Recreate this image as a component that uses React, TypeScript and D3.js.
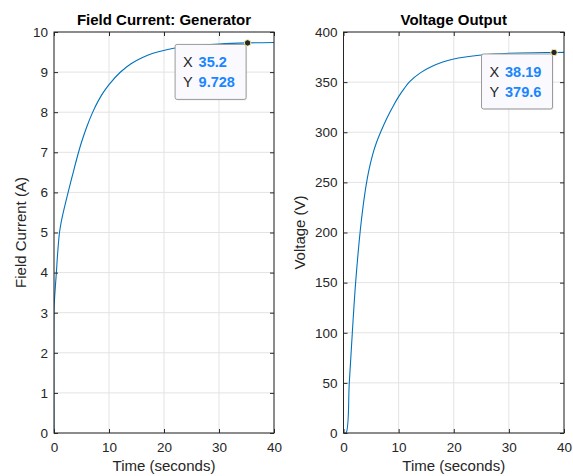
import React, { useEffect, useRef } from 'react';
import * as d3 from 'd3';

// field current (generator)
const fieldTime = [0, 0, 0.1, 0.43, 0.7, 1.0, 1.3, 1.6, 2.6, 3.4, 4.3, 5, 6, 7, 8, 9, 10, 12, 14, 16, 18, 20.9, 25, 30, 35.2, 40];
const fieldCurrent = [0, 3.05, 3.35, 4.0, 4.55, 5.0, 5.25, 5.45, 6.02, 6.45, 6.92, 7.25, 7.65, 7.99, 8.27, 8.5, 8.69, 8.99, 9.21, 9.36, 9.47, 9.57, 9.65, 9.70, 9.728, 9.74];

// voltage output
const voltTime = [0, 0.45, 1.05, 1.6, 2.2, 3.06, 3.6, 4.1, 4.6, 5.3, 6, 6.8, 8, 9, 10, 11, 12, 14, 16, 18, 19.8, 25, 30, 38.19, 40];
const voltage = [0, 0, 50, 100, 150, 203, 228, 247, 262, 278, 290, 301, 315.5, 326, 335.5, 343.5, 350.5, 359.5, 365.5, 370, 372.8, 377, 378.8, 379.6, 379.7];

const timeTicks = [0, 10, 20, 30, 40];
const currentTicks = [0, 1, 2, 3, 4, 5, 6, 7, 8, 9, 10];
const voltageTicks = [0, 50, 100, 150, 200, 250, 300, 350, 400];

const fieldTip = { x: 35.2, y: 9.728, xs: '35.2', ys: '9.728' };
const voltTip = { x: 38.19, y: 379.6, xs: '38.19', ys: '379.6' };

const W = 573;
const H = 476;
const FONT = 'Liberation Sans, Arial, Helvetica, sans-serif';
const INK = '#262626';

function drawPanel(root, opts) {
  const { left, right, top, bottom, xs, ys, yMax, yTicks, title, ylabel, ylabelX, tip } = opts;

  const x = d3.scaleLinear().domain([0, 40]).range([left, right]);
  const y = d3.scaleLinear().domain([0, yMax]).range([bottom, top]);

  const g = root.append('g');

  // grid
  g.append('g').selectAll('line').data(timeTicks).enter().append('line')
    .attr('x1', d => x(d)).attr('x2', d => x(d))
    .attr('y1', top).attr('y2', bottom)
    .attr('stroke', '#e3e3e3').attr('stroke-width', 1);
  g.append('g').selectAll('line').data(yTicks).enter().append('line')
    .attr('x1', left).attr('x2', right)
    .attr('y1', d => y(d)).attr('y2', d => y(d))
    .attr('stroke', '#e3e3e3').attr('stroke-width', 1);

  // clip + line
  const clipId = 'clip-' + title.replace(/[^a-z]/gi, '');
  g.append('clipPath').attr('id', clipId).append('rect')
    .attr('x', left).attr('y', top - 1).attr('width', right - left).attr('height', bottom - top + 1);

  const pts = xs.map((t, i) => [t, ys[i]]);
  const line = d3.line()
    .x(d => x(d[0]))
    .y(d => y(d[1]))
    .curve(d3.curveCatmullRom.alpha(0.5));

  g.append('path')
    .datum(pts)
    .attr('clip-path', 'url(#' + clipId + ')')
    .attr('d', line)
    .attr('fill', 'none')
    .attr('stroke', '#0072BD')
    .attr('stroke-width', 1.1);

  // axes, ticks pointing inward
  const styleAxis = (sel, showText) => {
    sel.select('.domain').remove();
    sel.selectAll('.tick line').attr('stroke', INK);
    sel.selectAll('.tick text')
      .attr('fill', INK)
      .style('font-family', FONT)
      .style('font-size', '13.5px');
    if (!showText) sel.selectAll('.tick text').remove();
  };

  g.append('g').attr('transform', 'translate(0,' + bottom + ')')
    .call(d3.axisBottom(x).tickValues(timeTicks).tickSizeInner(-4).tickSizeOuter(0).tickPadding(7))
    .call(s => styleAxis(s, true))
    .selectAll('.tick text').attr('dy', '0.9em');
  g.append('g').attr('transform', 'translate(0,' + top + ')')
    .call(d3.axisTop(x).tickValues(timeTicks).tickSizeInner(-4).tickSizeOuter(0))
    .call(s => styleAxis(s, false));
  g.append('g').attr('transform', 'translate(' + left + ',0)')
    .call(d3.axisLeft(y).tickValues(yTicks).tickSizeInner(-4).tickSizeOuter(0).tickPadding(6))
    .call(s => styleAxis(s, true));
  g.append('g').attr('transform', 'translate(' + right + ',0)')
    .call(d3.axisRight(y).tickValues(yTicks).tickSizeInner(-4).tickSizeOuter(0))
    .call(s => styleAxis(s, false));

  g.append('rect')
    .attr('x', left).attr('y', top)
    .attr('width', right - left).attr('height', bottom - top)
    .attr('fill', 'none').attr('stroke', INK).attr('stroke-width', 1);

  // labels
  g.append('text')
    .attr('x', (left + right) / 2).attr('y', 25)
    .attr('text-anchor', 'middle')
    .style('font-family', FONT).style('font-size', '15px').style('font-weight', 'bold')
    .attr('fill', '#000')
    .text(title);
  g.append('text')
    .attr('x', (left + right) / 2).attr('y', 471)
    .attr('text-anchor', 'middle')
    .style('font-family', FONT).style('font-size', '15px')
    .attr('fill', INK)
    .text('Time (seconds)');
  g.append('text')
    .attr('transform', 'translate(' + ylabelX + ',' + (top + bottom) / 2 + ') rotate(-90)')
    .attr('text-anchor', 'middle')
    .style('font-family', FONT).style('font-size', '15px')
    .attr('fill', INK)
    .text(ylabel);

  // data tip
  const px = x(tip.x);
  const py = y(tip.y);
  const bw = 71;
  const bh = 55;
  const bx = px - 1.5 - bw;
  const by = py + 1.5;
  const tipG = g.append('g');
  tipG.append('rect')
    .attr('x', bx + 1).attr('y', by + 1).attr('width', bw).attr('height', bh)
    .attr('rx', 2).attr('fill', 'rgba(0,0,0,0.08)');
  tipG.append('rect')
    .attr('x', bx).attr('y', by).attr('width', bw).attr('height', bh)
    .attr('rx', 2).attr('fill', '#f9f9fe').attr('stroke', '#9a9a9a').attr('stroke-width', 1);
  [['X', tip.xs, 23], ['Y', tip.ys, 43]].forEach(([k, v, dy]) => {
    const t = tipG.append('text')
      .attr('x', bx + 8).attr('y', by + dy)
      .style('font-family', FONT).style('font-size', '14.5px');
    t.append('tspan').attr('fill', INK).text(k);
    t.append('tspan').attr('x', bx + 23.5).attr('fill', '#1a86ff').style('font-weight', 'bold').text(v);
  });
  tipG.append('circle')
    .attr('cx', px).attr('cy', py).attr('r', 3.2)
    .attr('fill', '#262626').attr('stroke', '#f4f0a8').attr('stroke-width', 1);
}

export default function App() {
  const ref = useRef(null);

  useEffect(() => {
    const root = d3.select(ref.current);
    root.selectAll('*').remove();
    root.append('rect').attr('width', W).attr('height', H).attr('fill', '#fff');

    drawPanel(root, {
      left: 54, right: 274, top: 32, bottom: 433,
      xs: fieldTime, ys: fieldCurrent, yMax: 10, yTicks: currentTicks,
      title: 'Field Current: Generator', ylabel: 'Field Current (A)', ylabelX: 26,
      tip: fieldTip,
    });
    drawPanel(root, {
      left: 343.5, right: 564, top: 32, bottom: 433,
      xs: voltTime, ys: voltage, yMax: 400, yTicks: voltageTicks,
      title: 'Voltage Output', ylabel: 'Voltage (V)', ylabelX: 305,
      tip: voltTip,
    });
  }, []);

  return (
    <svg
      ref={ref}
      width={W}
      height={H}
      style={{ position: 'absolute', left: 0, top: 0, display: 'block' }}
    />
  );
}
